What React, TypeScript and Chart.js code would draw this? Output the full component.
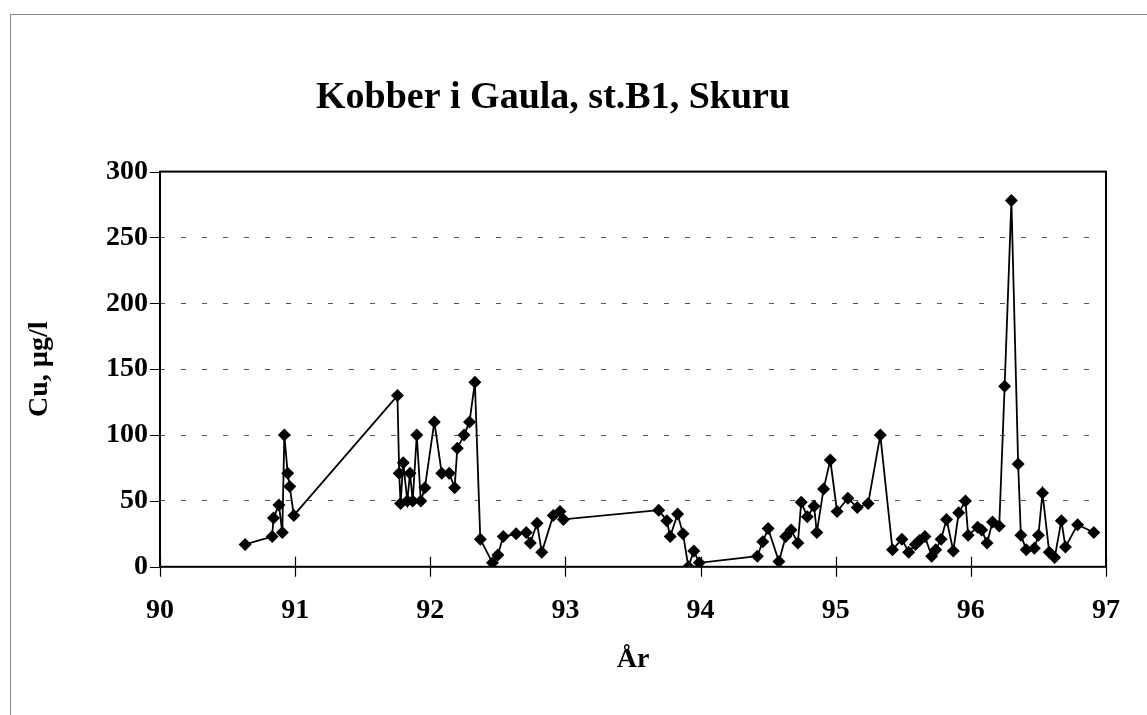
import React, { useEffect, useRef } from "react";
import { Chart, registerables } from "chart.js";

Chart.register(...registerables);

const years: number[] = [
  90.63, 90.83, 90.84, 90.88, 90.905, 90.92, 90.945, 90.96, 90.99,
  91.757, 91.77, 91.78, 91.8, 91.83, 91.85, 91.87, 91.9, 91.93, 91.96,
  92.03, 92.085, 92.14, 92.18, 92.2, 92.25, 92.29, 92.33, 92.37, 92.46,
  92.5, 92.54, 92.635, 92.71, 92.74, 92.79, 92.825, 92.91, 92.96, 92.985,
  93.69, 93.75, 93.775, 93.83, 93.87, 93.91, 93.95, 93.99,
  94.42, 94.46, 94.5, 94.58, 94.63, 94.67, 94.72, 94.745, 94.79, 94.84,
  94.86, 94.91, 94.96, 95.01, 95.09, 95.16, 95.24, 95.33, 95.42, 95.49,
  95.54, 95.59, 95.62, 95.66, 95.71, 95.74, 95.78, 95.82, 95.87, 95.91,
  95.96, 95.98, 96.05, 96.08, 96.12, 96.16, 96.21, 96.25, 96.3, 96.35,
  96.37, 96.41, 96.47, 96.5, 96.53, 96.58, 96.62, 96.67, 96.7, 96.79, 96.91,
];

const copper: number[] = [
  17, 23, 37, 47, 26, 100, 71, 61, 39,
  130, 71, 48, 79, 50, 71, 50, 100, 50, 60,
  110, 71, 71, 60, 90, 100, 110, 140, 21, 3,
  9, 23, 25, 26, 18, 33, 11, 39, 42, 36,
  43, 35, 23, 40, 25, 0, 12, 3,
  8, 19, 29, 4, 23, 28, 18, 49, 38, 46,
  26, 59, 81, 42, 52, 45, 48, 100, 13, 21,
  11, 17, 20, 23, 8, 13, 21, 36, 12, 41,
  50, 24, 30, 28, 18, 34, 31, 137, 278, 78,
  24, 13, 14, 24, 56, 11, 7, 35, 15, 32, 26,
];

const titleText = "Kobber i Gaula, st.B1, Skuru";
const xTitle = "År";
const yTitle = "Cu, µg/l";

const FONT = "'Liberation Serif', 'Times New Roman', serif";

const framePlugin = {
  id: "frameTicks",
  beforeDatasetsDraw(chart: any) {
    const { ctx, chartArea: a, scales } = chart;
    ctx.save();
    ctx.strokeStyle = "#000";
    ctx.lineWidth = 2;
    ctx.strokeRect(a.left, a.top, a.right - a.left, a.bottom - a.top);
    ctx.lineWidth = 1.2;
    ctx.beginPath();
    scales.x.ticks.forEach((t: any) => {
      const px = Math.round(scales.x.getPixelForValue(t.value)) + 0.5;
      ctx.moveTo(px, a.bottom - 10);
      ctx.lineTo(px, a.bottom + 10);
    });
    scales.y.ticks.forEach((t: any) => {
      const py = Math.round(scales.y.getPixelForValue(t.value)) + 0.5;
      ctx.moveTo(a.left - 10, py);
      ctx.lineTo(a.left, py);
    });
    ctx.stroke();
    ctx.restore();
  },
};

export default function App() {
  const ref = useRef<HTMLCanvasElement | null>(null);

  useEffect(() => {
    if (!ref.current) return;
    const points = years.map((x, i) => ({ x, y: copper[i] }));
    const chart = new Chart(ref.current, {
      type: "line",
      data: {
        datasets: [
          {
            data: points,
            borderColor: "#000",
            backgroundColor: "#000",
            borderWidth: 1.8,
            pointStyle: "rectRot",
            pointRadius: 6.5,
            pointBorderWidth: 0,
            pointBackgroundColor: "#000",
            tension: 0,
          },
        ],
      },
      options: {
        animation: false,
        responsive: false,
        layout: { padding: { left: 0, right: 41, top: 0, bottom: 0 } },
        plugins: {
          legend: { display: false },
          tooltip: { enabled: false },
          title: {
            display: true,
            text: titleText,
            color: "#000",
            font: { family: FONT, size: 38, weight: "bold" },
            padding: { top: 75, bottom: 51 },
          },
        },
        scales: {
          x: {
            type: "linear",
            min: 90,
            max: 97,
            ticks: {
              stepSize: 1,
              color: "#000",
              padding: 27,
              font: { family: FONT, size: 28, weight: "bold" },
            },
            grid: { display: false, drawTicks: false },
            border: { display: false },
            title: {
              display: true,
              text: xTitle,
              color: "#000",
              font: { family: FONT, size: 28, weight: "bold" },
              padding: { top: -11, bottom: 38 },
            },
          },
          y: {
            min: 0,
            max: 300,
            afterFit: (s: any) => {
              s.width = 160;
            },
            ticks: {
              stepSize: 50,
              color: "#000",
              padding: 12,
              font: { family: FONT, size: 28, weight: "bold" },
            },
            grid: {
              drawTicks: false,
              color: (c: any) =>
                c.tick && (c.tick.value === 0 || c.tick.value === 300) ? "rgba(0,0,0,0)" : "#555",
              lineWidth: 1,
            },
            border: { display: false, dash: [5, 16] },
            title: {
              display: true,
              text: yTitle,
              color: "#000",
              font: { family: FONT, size: 28, weight: "bold" },
              padding: { top: 23, bottom: 0 },
            },
          },
        },
      },
      plugins: [framePlugin],
    });
    return () => chart.destroy();
  }, []);

  return (
    <div
      style={{
        position: "fixed",
        left: 0,
        top: 0,
        width: 1147,
        height: 715,
        background: "#fff",
        overflow: "hidden",
      }}
    >
      <div
        style={{
          position: "absolute",
          left: 10,
          top: 14,
          width: 1160,
          height: 720,
          borderLeft: "1px solid #888",
          borderTop: "1px solid #888",
        }}
      />
      <canvas
        ref={ref}
        width={1147}
        height={715}
        style={{ position: "absolute", left: 0, top: 0, width: 1147, height: 715 }}
      />
    </div>
  );
}
